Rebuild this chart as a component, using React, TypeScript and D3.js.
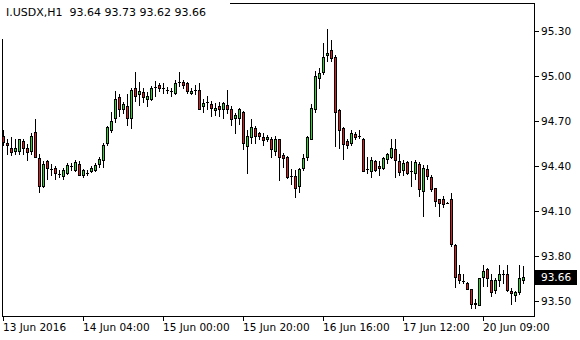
import React from "react";
import * as d3 from "d3";

const title = "I.USDX,H1  93.64 93.73 93.62 93.66";
const lastPrice = 93.66;

const opens = [94.603,94.555,94.521,94.499,94.503,94.565,94.521,94.499,94.625,94.455,94.27,94.43,94.382,94.388,94.348,94.332,94.355,94.399,94.372,94.415,94.337,94.355,94.365,94.372,94.415,94.437,94.555,94.637,94.717,94.861,94.781,94.803,94.717,94.921,94.881,94.892,94.848,94.848,94.928,94.943,94.921,94.905,94.899,94.888,94.963,94.961,94.95,94.888,94.905,94.91,94.799,94.825,94.81,94.772,94.799,94.777,94.805,94.783,94.719,94.721,94.761,94.532,94.595,94.655,94.617,94.595,94.579,94.583,94.499,94.577,94.472,94.461,94.332,94.332,94.265,94.388,94.461,94.581,94.781,94.988,95.028,95.139,95.17,95.128,94.772,94.655,94.565,94.555,94.615,94.599,94.583,94.377,94.365,94.432,94.399,94.388,94.448,94.461,94.515,94.432,94.37,94.428,94.367,94.355,94.415,94.232,94.377,94.328,94.255,94.177,94.177,94.155,94.177,93.87,93.677,93.632,93.621,93.577,93.488,93.472,93.661,93.715,93.643,93.572,93.639,93.683,93.677,93.565,93.539,93.559,93.64];
const highs = [94.639,94.577,94.595,94.577,94.583,94.581,94.55,94.617,94.715,94.477,94.432,94.439,94.415,94.399,94.37,94.388,94.421,94.421,94.439,94.432,94.383,94.37,94.399,94.421,94.459,94.555,94.665,94.759,94.899,94.877,94.825,94.881,94.921,95.025,94.961,94.921,94.895,94.932,94.965,94.95,94.95,94.928,94.917,94.972,95.028,94.972,94.961,94.917,94.943,94.95,94.848,94.865,94.832,94.821,94.828,94.828,94.91,94.799,94.755,94.788,94.77,94.643,94.715,94.665,94.625,94.617,94.605,94.595,94.599,94.583,94.488,94.465,94.377,94.372,94.388,94.477,94.599,94.81,95.032,95.055,95.221,95.31,95.237,95.139,94.777,94.661,94.577,94.643,94.628,94.637,94.588,94.461,94.461,94.443,94.432,94.459,94.488,94.583,94.581,94.477,94.443,94.432,94.432,94.437,94.428,94.41,94.41,94.337,94.255,94.181,94.203,94.159,94.217,93.883,93.743,93.683,93.625,93.581,93.51,93.655,93.737,93.721,93.677,93.655,93.737,93.71,93.737,93.588,93.565,93.737,93.73];
const lows = [94.537,94.477,94.472,94.477,94.477,94.481,94.439,94.477,94.459,94.225,94.259,94.31,94.343,94.31,94.325,94.31,94.348,94.37,94.365,94.343,94.325,94.343,94.361,94.365,94.392,94.392,94.539,94.625,94.695,94.732,94.755,94.672,94.655,94.832,94.805,94.825,94.799,94.843,94.865,94.899,94.888,94.888,94.865,94.877,94.932,94.917,94.888,94.883,94.877,94.777,94.761,94.783,94.732,94.739,94.732,94.717,94.755,94.672,94.617,94.681,94.515,94.355,94.555,94.555,94.583,94.539,94.565,94.461,94.472,94.305,94.395,94.321,94.283,94.195,94.228,94.372,94.439,94.577,94.761,94.921,95.01,95.099,95.099,94.532,94.521,94.448,94.521,94.543,94.577,94.588,94.365,94.355,94.328,94.365,94.343,94.383,94.421,94.455,94.325,94.343,94.337,94.35,94.265,94.315,94.203,94.065,94.315,94.232,94.132,94.065,94.128,94.15,93.865,93.595,93.617,93.617,93.577,93.455,93.455,93.472,93.599,93.599,93.532,93.555,93.599,93.621,93.565,93.477,93.499,93.55,93.62];
const closes = [94.563,94.537,94.495,94.517,94.577,94.521,94.495,94.603,94.459,94.27,94.415,94.388,94.378,94.355,94.348,94.37,94.41,94.399,94.428,94.343,94.37,94.355,94.388,94.41,94.448,94.543,94.659,94.703,94.85,94.783,94.81,94.717,94.91,94.865,94.903,94.859,94.865,94.923,94.928,94.923,94.921,94.905,94.899,94.95,94.963,94.937,94.899,94.901,94.905,94.783,94.821,94.825,94.788,94.788,94.777,94.821,94.783,94.715,94.737,94.777,94.555,94.599,94.661,94.599,94.599,94.572,94.595,94.515,94.583,94.461,94.455,94.328,94.332,94.255,94.377,94.455,94.595,94.788,94.999,95.021,95.128,95.155,95.121,94.761,94.639,94.55,94.539,94.621,94.595,94.599,94.365,94.377,94.437,94.372,94.388,94.455,94.477,94.521,94.443,94.363,94.42,94.355,94.367,94.428,94.248,94.388,94.332,94.248,94.165,94.155,94.148,94.155,93.877,93.661,93.639,93.632,93.581,93.481,93.477,93.655,93.699,93.655,93.561,93.637,93.677,93.683,93.572,93.555,93.559,93.655,93.66];

const priceTicks = [93.5, 93.8, 94.1, 94.4, 94.7, 95.0, 95.3];
const timeLabels = ["13 Jun 2016", "14 Jun 04:00", "15 Jun 00:00", "15 Jun 20:00", "16 Jun 16:00", "17 Jun 12:00", "20 Jun 09:00"];
const timeLabelBars = [0, 20, 40, 60, 80, 100, 120];

const W = 580;
const H = 340;
const FONT = "'DejaVu Sans', Verdana, sans-serif";
const BULL = "#22dd22";
const BEAR = "#e01b1b";

export default function App() {
  const n = opens.length;
  const x = d3.scaleLinear().domain([0, n - 1]).range([3, 3 + 4 * (n - 1)]);
  const y = d3.scaleLinear().domain([93.5, 95.3]).range([301, 31]);
  const left = 2, right = 534, top = 3, bottom = 316;

  const candles = opens.map((o, i) => {
    const c = closes[i];
    const cx = Math.round(x(i));
    const yh = Math.round(y(highs[i]));
    const yl = Math.round(y(lows[i]));
    const bt = Math.round(y(Math.max(o, c)));
    const bb = Math.round(y(Math.min(o, c)));
    const bull = c > o;
    const els = [
      <rect key="w" x={cx} y={yh} width={1} height={yl - yh + 1} fill="#000" />,
    ];
    if (bb - bt < 1) {
      els.push(<rect key="d" x={cx - 1} y={bt} width={3} height={1} fill="#000" />);
    } else {
      els.push(<rect key="b" x={cx - 1} y={bt} width={3} height={bb - bt + 1} fill="#000" />);
      if (bb - bt - 1 > 0) {
        els.push(<rect key="f" x={cx} y={bt + 1} width={1} height={bb - bt - 1} fill={bull ? BULL : BEAR} />);
      }
    }
    return <g key={i}>{els}</g>;
  });

  const lp = Math.round(y(lastPrice));

  return (
    <svg width={W} height={H} style={{ position: "absolute", left: 0, top: 0, display: "block" }} shapeRendering="crispEdges">
      <rect x={0} y={0} width={W} height={H} fill="#fff" />
      <rect x={230} y={top} width={right - 230 + 1} height={1} fill="#000" />
      <rect x={left} y={39} width={1} height={bottom - 39 + 1} fill="#000" />
      <rect x={right} y={top} width={1} height={bottom - top + 1} fill="#000" />
      <rect x={left} y={bottom} width={right - left + 1} height={1} fill="#000" />
      {candles}
      {priceTicks.map((v) => {
        const yy = Math.round(y(v));
        return (
          <g key={v}>
            <rect x={right + 1} y={yy} width={4} height={1} fill="#000" />
            <text x={541} y={yy + 4} fontFamily={FONT} fontSize={10.5} fill="#000">{v.toFixed(2)}</text>
          </g>
        );
      })}
      <rect x={535} y={lp - 7} width={42} height={15} fill="#000" />
      <text x={541} y={lp + 4} fontFamily={FONT} fontSize={10.5} fill="#fff">{lastPrice.toFixed(2)}</text>
      {timeLabelBars.map((b, k) => {
        const xx = Math.round(x(b));
        return (
          <g key={b}>
            <rect x={xx} y={bottom + 1} width={1} height={4} fill="#000" />
            <text x={xx} y={331} fontFamily={FONT} fontSize={10.5} fill="#000">{timeLabels[k]}</text>
          </g>
        );
      })}
      <text x={6} y={16} fontFamily={FONT} fontSize={11} fill="#000" style={{ whiteSpace: "pre" }}>{title}</text>
    </svg>
  );
}
